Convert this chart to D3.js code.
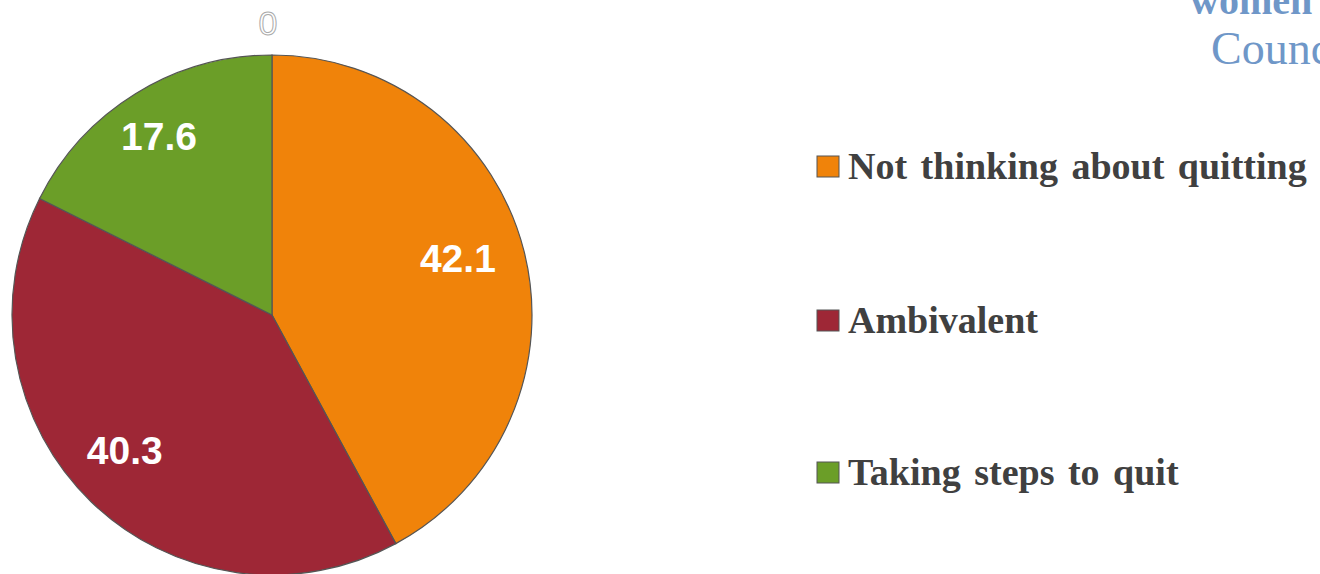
<!DOCTYPE html>
<html>
<head>
<meta charset="utf-8">
<script src="https://cdn.jsdelivr.net/npm/d3@7"></script>
<style>
  html, body { margin: 0; padding: 0; background: #fff; overflow: hidden; }
</style>
</head>
<body>
<svg width="1320" height="574"></svg>
<script>
// chart data
var categories = ["Not thinking about quitting", "Ambivalent", "Taking steps to quit"];
var values = [42.1, 40.3, 17.6];
var colors = ["#F0830A", "#9E2736", "#6B9E28"];

var svg = d3.select("svg"),
  width = +svg.attr("width"),
  height = +svg.attr("height");

var cx = 272, cy = 315, radius = 260;

var pie = d3.pie().sort(null).value(function(d) { return d; });
var arc = d3.arc().innerRadius(0).outerRadius(radius);
var labelArc = d3.arc().innerRadius(200).outerRadius(200);

var g = svg.append("g").attr("transform", "translate(" + cx + "," + cy + ")");

var slices = pie(values);

g.selectAll("path")
  .data(slices)
  .enter()
  .append("path")
    .attr("d", arc)
    .attr("fill", function(d, i) { return colors[i]; })
    .attr("stroke", "#555")
    .attr("stroke-width", 1.2);

// value labels (nudged a bit up-left like the original)
g.selectAll("text.val")
  .data(slices)
  .enter()
  .append("text")
    .attr("class", "val")
    .attr("transform", function(d) {
      var c = labelArc.centroid(d);
      return "translate(" + (c[0] - 8) + "," + (c[1] - 8) + ")";
    })
    .attr("text-anchor", "middle")
    .attr("dy", "0.35em")
    .style("font-family", "Liberation Sans, Arial, sans-serif")
    .style("font-weight", "bold")
    .style("font-size", "39px")
    .style("fill", "#fff")
    .text(function(d) { return d.data; });

// stray outlined zero on top
svg.append("text")
  .attr("x", 268).attr("y", 35)
  .attr("text-anchor", "middle")
  .style("font-family", "Liberation Sans, Arial, sans-serif")
  .style("font-size", "34px")
  .style("fill", "#fff")
  .style("stroke", "#aaa")
  .style("stroke-width", 1)
  .text("0");

// cut-off title in corner
svg.append("text")
  .attr("x", 1190).attr("y", 14)
  .style("font-family", "Liberation Serif, Times New Roman, serif")
  .style("font-weight", "bold")
  .style("font-size", "40px")
  .style("fill", "#6F97C8")
  .text("women");
svg.append("text")
  .attr("x", 1211).attr("y", 64)
  .style("font-family", "Liberation Serif, Times New Roman, serif")
  .style("font-size", "46px")
  .style("fill", "#6F97C8")
  .text("Council");

// legend
var legendY = [179, 333, 485];
var legend = svg.append("g").selectAll("g")
  .data(categories)
  .enter()
  .append("g")
    .attr("transform", function(d, i) { return "translate(817," + legendY[i] + ")"; });

legend.append("rect")
  .attr("x", 0).attr("y", -23)
  .attr("width", 22).attr("height", 21)
  .attr("fill", function(d, i) { return colors[i]; })
  .attr("stroke", "#555")
  .attr("stroke-width", 1);

legend.append("text")
  .attr("x", 31).attr("y", 0)
  .style("font-family", "Liberation Serif, Times New Roman, serif")
  .style("font-weight", "bold")
  .style("font-size", "38px")
  .style("word-spacing", "4px")
  .style("fill", "#404040")
  .text(function(d) { return d; });
</script>
</body>
</html>
